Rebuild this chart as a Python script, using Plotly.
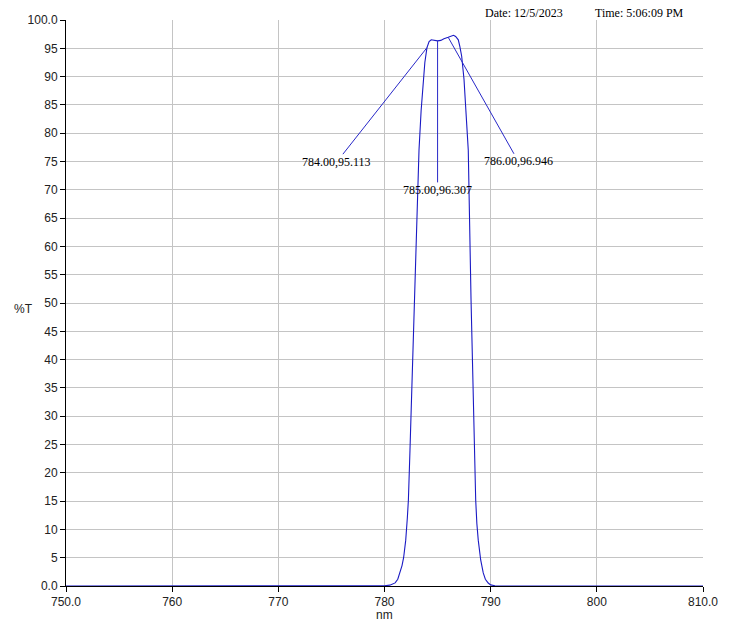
import plotly.graph_objects as go

# ---- data ----
wavelength_nm = [750.0, 779.5, 780.0, 780.5, 781.0, 781.25, 781.45, 781.65, 781.8, 782.0,
                 782.15, 782.25, 782.4, 782.6, 782.8, 783.0, 783.25, 783.45, 783.6, 783.8,
                 784.0, 784.2, 784.4, 784.6, 785.0, 785.3, 785.6, 786.0, 786.3, 786.5,
                 786.7, 786.95, 787.1, 787.27, 787.49, 787.67, 787.89, 788.15, 788.3, 788.46,
                 788.59, 788.7, 788.83, 789.06, 789.3, 789.5, 789.77, 790.0, 790.4, 791.0,
                 810.0]
transmission_pct = [0.0, 0.0, 0.05, 0.15, 0.55, 1.2, 2.3, 3.6, 5.0, 8.1,
                    12.0, 15.2, 24.0, 37.0, 50.6, 64.0, 77.0, 84.0, 88.0, 92.5,
                    95.113, 96.2, 96.5, 96.4, 96.307, 96.4, 96.7, 96.946, 97.2, 97.3,
                    97.1, 96.5, 95.3, 93.6, 89.5, 83.7, 77.0, 50.6, 37.0, 25.8,
                    15.2, 11.0, 8.1, 4.6, 2.3, 1.2, 0.53, 0.2, 0.05, 0.0,
                    0.0]

marker_wl = [784.0, 785.0, 786.0]
marker_T = [95.113, 96.307, 96.946]
marker_labels = ["784.00,95.113", "785.00,96.307", "786.00,96.946"]
marker_offsets = [(-90, 114), (0, 149), (70, 124)]

x_tickvals = [750, 760, 770, 780, 790, 800, 810]
x_ticktext = ["750.0", "760", "770", "780", "790", "800", "810.0"]
y_tickvals = list(range(0, 101, 5))
y_ticktext = ["0.0"] + [str(v) for v in range(5, 100, 5)] + ["100.0"]

date_text = "Date: 12/5/2023"
time_text = "Time: 5:06:09 PM"

# ---- figure ----
fig = go.Figure()
fig.add_trace(go.Scatter(x=wavelength_nm, y=transmission_pct, mode="lines",
                         line=dict(color="#1a1ac4", width=1.1), hoverinfo="skip",
                         showlegend=False))

annotations = []
for wl, t, lab, (ax, ay) in zip(marker_wl, marker_T, marker_labels, marker_offsets):
    annotations.append(dict(x=wl, y=t, xref="x", yref="y", text=lab, showarrow=True,
                            arrowhead=0, arrowwidth=1, arrowcolor="#2828c8",
                            ax=ax, ay=ay, standoff=0, borderpad=0,
                            font=dict(family="Liberation Serif", size=12, color="black")))


def paper_note(px, py, text, family):
    return dict(x=(px - 66) / 637, y=(586 - py) / 566, xref="paper", yref="paper",
                text=text, showarrow=False, xanchor="center", yanchor="middle",
                font=dict(family=family, size=12, color="black" if "Serif" in family else "#222"))


annotations += [
    paper_note(524, 13, date_text, "Liberation Serif"),
    paper_note(639, 13, time_text, "Liberation Serif"),
    paper_note(23, 309, "%T", "Liberation Sans"),
    paper_note(385, 615, "nm", "Liberation Sans"),
]

fig.update_layout(
    width=731, height=626,
    margin=dict(l=66, r=28, t=20, b=40),
    paper_bgcolor="white", plot_bgcolor="white",
    annotations=annotations,
    xaxis=dict(range=[750, 810], tickvals=x_tickvals, ticktext=x_ticktext,
               showgrid=True, gridcolor="#c4c4c4", gridwidth=1,
               showline=True, linecolor="black", linewidth=1,
               ticks="outside", ticklen=5, tickcolor="black",
               tickfont=dict(family="Liberation Sans", size=12, color="#222"),
               zeroline=False, fixedrange=True),
    yaxis=dict(range=[0, 100], tickvals=y_tickvals, ticktext=y_ticktext,
               showgrid=True, gridcolor="#c4c4c4", gridwidth=1,
               showline=True, linecolor="black", linewidth=1,
               ticks="outside", ticklen=5, tickcolor="black",
               tickfont=dict(family="Liberation Sans", size=12, color="#222"),
               zeroline=False, fixedrange=True),
)

fig.write_html("out.html", config={"displayModeBar": False},
               post_script="document.body.style.margin='0';document.body.style.overflow='hidden';")
